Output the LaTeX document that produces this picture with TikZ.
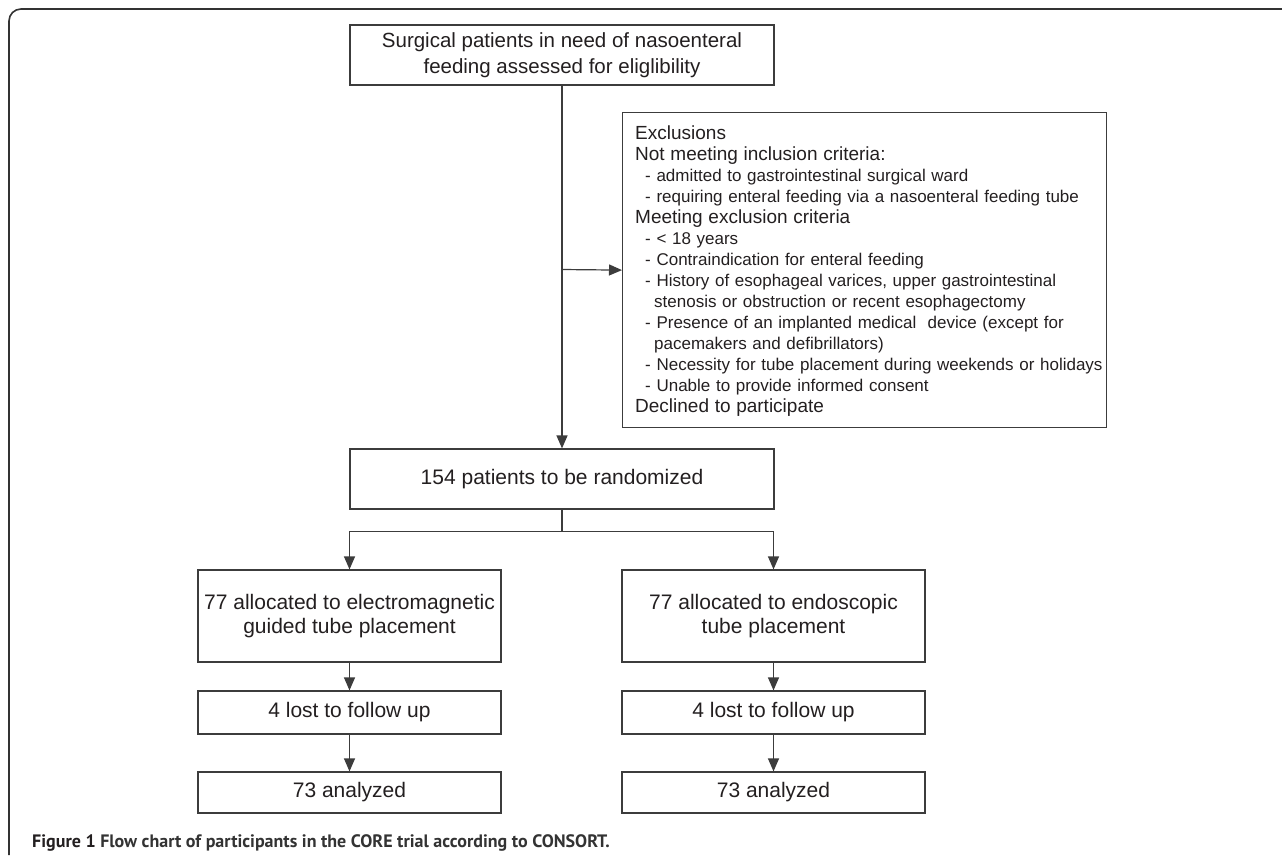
\documentclass[tikz,border=0pt]{standalone}
\usepackage{fontspec}
\setmainfont{Liberation Sans}
\newfontfamily\capfont{PT Sans}
\usetikzlibrary{arrows.meta}
\definecolor{linec}{HTML}{3C3C3C}
\definecolor{textc}{HTML}{231F20}
\definecolor{framec}{HTML}{333333}
\newcommand{\hd}{\fontsize{19}{21}\selectfont}
\begin{document}
\begin{tikzpicture}[x=1pt,y=-1pt,
  box/.style={draw=linec, line width=1.2pt, fill=white, text=textc, align=center,
    inner sep=0pt, font=\fontsize{21}{24}\selectfont},
  arr/.style={draw=linec, line width=1.2pt, -{Triangle[length=13pt,width=11pt]}},
  ln/.style={draw=linec, line width=1.2pt}]
\useasboundingbox (0,0) rectangle (1282,855);
% frame
\draw[framec, line width=1.6pt, rounded corners=12pt] (1282,9) -- (9,9) -- (9,855);
% nodes
\node[box, minimum width=424pt, minimum height=60pt, font=\fontsize{20.5}{26}\selectfont]
  (top) at (562,55) {Surgical patients in need of nasoenteral\\feeding assessed for eliglibility};
\node[draw=linec, line width=1.2pt, anchor=north west, minimum width=484pt,
  minimum height=315pt, inner sep=0pt] (excl) at (622,112) {};
\node[anchor=north west, inner sep=0pt, text width=470pt, align=left, text=textc,
  font=\fontsize{17}{21}\selectfont] (excltext) at (635,126) {%
{\hd Exclusions}\\
{\hd Not meeting inclusion criteria:}\\
\hspace*{10pt}- admitted to gastrointestinal surgical ward\\
\hspace*{10pt}- requiring enteral feeding via a nasoenteral feeding tube\\
{\hd Meeting exclusion criteria}\\
\hspace*{10pt}- < 18 years\\
\hspace*{10pt}- Contraindication for enteral feeding\\
\hspace*{10pt}- History of esophageal varices, upper gastrointestinal\\
\hspace*{19pt}stenosis or obstruction or recent esophagectomy\\
\hspace*{10pt}- Presence of an implanted medical~ device (except for\\
\hspace*{19pt}pacemakers and defibrillators)\\
\hspace*{10pt}- Necessity for tube placement during weekends or holidays\\
\hspace*{10pt}- Unable to provide informed consent\\
{\hd Declined to participate}};
\node[box, minimum width=424pt, minimum height=60pt] (rand) at (562,479) {154 patients to be randomized};
\node[box, minimum width=303pt, minimum height=92pt] (allocA) at (349.5,616)
  {77 allocated to electromagnetic\\guided tube placement};
\node[box, minimum width=303pt, minimum height=92pt] (allocB) at (773.5,616)
  {77 allocated to endoscopic\\tube placement};
\node[box, minimum width=303pt, minimum height=43pt] (lostA) at (349.5,712.5) {4 lost to follow up};
\node[box, minimum width=303pt, minimum height=43pt] (lostB) at (773.5,712.5) {4 lost to follow up};
\node[box, minimum width=303pt, minimum height=41pt] (anaA) at (349.5,792.5) {73 analyzed};
\node[box, minimum width=303pt, minimum height=41pt] (anaB) at (773.5,792.5) {73 analyzed};
\node[anchor=base west, inner sep=0pt, text=textc, font=\capfont\bfseries\fontsize{18}{22}\selectfont]
  (cap) at (32,847) {Figure 1 {\color{black!80}Flow chart of participants in the CORE trial according to CONSORT.}};
% connectors
\draw[arr] (top.south) -- (rand.north);
\coordinate (j) at (562,269.5);
\draw[arr] (j) -- (excl.west);
\draw[ln] (rand.south) -- ++(0,22) coordinate (b);
\draw[arr] (b) -| (allocA.north);
\draw[arr] (b) -| (allocB.north);
\draw[arr] (allocA.south) -- (lostA.north);
\draw[arr] (allocB.south) -- (lostB.north);
\draw[arr] (lostA.south) -- (anaA.north);
\draw[arr] (lostB.south) -- (anaB.north);
\end{tikzpicture}
\end{document}
